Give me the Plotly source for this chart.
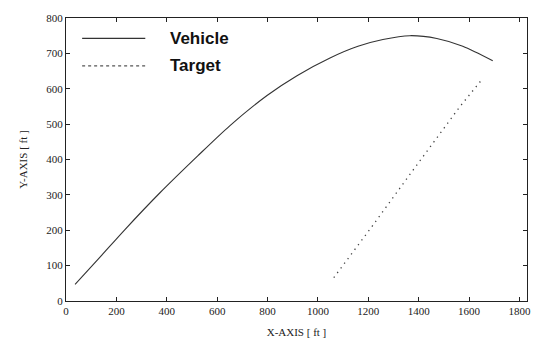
import plotly.graph_objects as go

# Vehicle trajectory (ft)
vehicle_x = [36, 135, 234, 373, 524, 651, 798, 917, 1048, 1159, 1258, 1365, 1472, 1575, 1694]
vehicle_y = [47, 124, 202, 306, 411, 496, 581, 637, 687, 720, 739, 750, 742, 720, 679]

# Target trajectory (ft)
target_x = [1063, 1214, 1357, 1563, 1651]
target_y = [66, 210, 350, 549, 626]

x_ticks = [0, 200, 400, 600, 800, 1000, 1200, 1400, 1600, 1800]
y_ticks = [0, 100, 200, 300, 400, 500, 600, 700, 800]

fig = go.Figure()
fig.add_trace(go.Scatter(x=vehicle_x, y=vehicle_y, mode="lines", name="Vehicle",
                         line=dict(color="#333333", width=1.1, shape="spline", smoothing=0.8)))
fig.add_trace(go.Scatter(x=target_x, y=target_y, mode="lines", name="Target",
                         line=dict(color="#444444", width=1.3, dash="1.3px,4.5px")))

# manual legend
leg_font = dict(family="Liberation Sans, Arial", size=17, color="#111111")
fig.add_shape(type="line", xref="paper", yref="paper", x0=0.035, x1=0.172, y0=0.928, y1=0.928,
              line=dict(color="#333333", width=1.1))
fig.add_shape(type="line", xref="paper", yref="paper", x0=0.035, x1=0.172, y0=0.831, y1=0.831,
              line=dict(color="#555555", width=1.1, dash="dot"))
fig.add_annotation(xref="paper", yref="paper", x=0.222, y=0.928, xanchor="left", yanchor="middle",
                   text="<b>Vehicle</b>", showarrow=False, font=leg_font)
fig.add_annotation(xref="paper", yref="paper", x=0.222, y=0.831, xanchor="left", yanchor="middle",
                   text="<b>Target</b>", showarrow=False, font=leg_font)

tick_font = dict(family="Liberation Serif", size=11, color="#222222")
title_font = dict(family="Liberation Serif", size=11, color="#222222")
fig.update_xaxes(range=[0, 1830], tickvals=x_ticks, ticktext=[str(v) for v in x_ticks],
                 ticks="inside", ticklen=4, tickcolor="#222", mirror="ticks",
                 showline=True, linecolor="#222", linewidth=1, showgrid=False, zeroline=False,
                 tickfont=tick_font,
                 title=dict(text="X-AXIS [ ft ]", font=title_font, standoff=12))
fig.update_yaxes(range=[0, 800], tickvals=y_ticks, ticktext=[str(v) for v in y_ticks],
                 ticks="inside", ticklen=4, tickcolor="#222", mirror="ticks",
                 showline=True, linecolor="#222", linewidth=1, showgrid=False, zeroline=False,
                 tickfont=tick_font,
                 title=dict(text="Y-AXIS [ ft ]", font=title_font, standoff=16))
fig.update_layout(width=549, height=349, margin=dict(l=66, r=22, t=14, b=45),
                  plot_bgcolor="white", paper_bgcolor="white", showlegend=False)
fig.write_html("out.html")
